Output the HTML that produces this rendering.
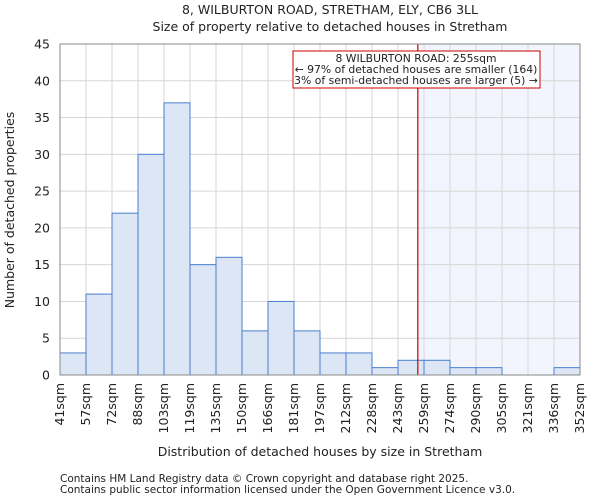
<!DOCTYPE html>
<html><head><meta charset="utf-8"><style>
body{margin:0;background:#fff;font-family:"DejaVu Sans","Liberation Sans",sans-serif}
svg text{font-family:"DejaVu Sans","Liberation Sans",sans-serif;fill:#222}
</style></head><body>
<svg id="c" width="600" height="500" xmlns="http://www.w3.org/2000/svg">
<text x="330" y="14" font-size="12.5" text-anchor="middle">8, WILBURTON ROAD, STRETHAM, ELY, CB6 3LL</text>
<text x="330" y="31" font-size="12.5" text-anchor="middle">Size of property relative to detached houses in Stretham</text>
<g id="g"></g>
<text x="320" y="456" font-size="12.5" text-anchor="middle">Distribution of detached houses by size in Stretham</text>
<text x="14" y="210" font-size="12.5" text-anchor="middle" transform="rotate(-90 14 210)">Number of detached properties</text>
<text x="60" y="482" font-size="10.5" fill="#444">Contains HM Land Registry data © Crown copyright and database right 2025.</text>
<text x="60" y="493" font-size="10.5" fill="#444">Contains public sector information licensed under the Open Government Licence v3.0.</text>
</svg>
<script>
const categories=["41sqm","57sqm","72sqm","88sqm","103sqm","119sqm","135sqm","150sqm","166sqm","181sqm","197sqm","212sqm","228sqm","243sqm","259sqm","274sqm","290sqm","305sqm","321sqm","336sqm","352sqm"];
const counts=[3,11,22,30,37,15,16,6,10,6,3,3,1,2,2,1,1,0,0,1];
const yTicks=[0,5,10,15,20,25,30,35,40,45];
const binStart=41, binWidth=15.55, markerValue=255;
const X0=60,X1=580,Y0=375,Y1=44,yMax=45;
const nb=counts.length, bw=(X1-X0)/nb;
const xs=v=>X0+(v-binStart)/binWidth*bw;
const ys=v=>Y0-(v/yMax)*(Y0-Y1);
const NS="http://www.w3.org/2000/svg", g=document.getElementById('g');
function mk(t,a){const e=document.createElementNS(NS,t);for(const k in a)e.setAttribute(k,a[k]);g.appendChild(e);return e;}
const mx=xs(markerValue);
let e=mk('rect',{x:mx,y:Y1,width:X1-mx,height:Y0-Y1,fill:'#f2f5fd'});


yTicks.forEach(t=>{
 let l=mk('line',{x1:X0,x2:X1,y1:ys(t),y2:ys(t),stroke:'#d6d6d6'});
 
 
 let tx=mk('text',{x:X0-10,y:ys(t)+4.5,'font-size':12.5,'text-anchor':'end'});tx.textContent=t;
 
 
});
categories.forEach((c,i)=>{
 const x=X0+i*bw;
 let l=mk('line',{x1:x,x2:x,y1:Y1,y2:Y0,stroke:'#d6d6d6'});
 
 
 let tx=mk('text',{x:x+4,y:Y0+8,'font-size':12.5,'text-anchor':'end',transform:`rotate(-90 ${x+4} ${Y0+8})`});tx.textContent=c;
 
 
});
counts.forEach((v,i)=>{
 let r=mk('rect',{x:X0+i*bw,y:ys(v),width:bw,height:Y0-ys(v),fill:'#dce6f5',stroke:'#4a7fcf','stroke-width':1});
 
 
});
e=mk('line',{x1:mx,x2:mx,y1:Y1,y2:Y0,stroke:'#cc0000','stroke-width':1.2});


e=mk('rect',{x:293,y:51,width:247,height:37,fill:'#fff',stroke:'#cc0000'});


["8 WILBURTON ROAD: 255sqm","← 97% of detached houses are smaller (164)","3% of semi-detached houses are larger (5) →"].forEach((s,i)=>{
 let t=mk('text',{x:416,y:62+i*11,'font-size':10.8,'text-anchor':'middle'});t.textContent=s;
 
 
});
e=mk('rect',{x:X0,y:Y1,width:X1-X0,height:Y0-Y1,fill:'none',stroke:'#888'});


</script>
</body></html>
